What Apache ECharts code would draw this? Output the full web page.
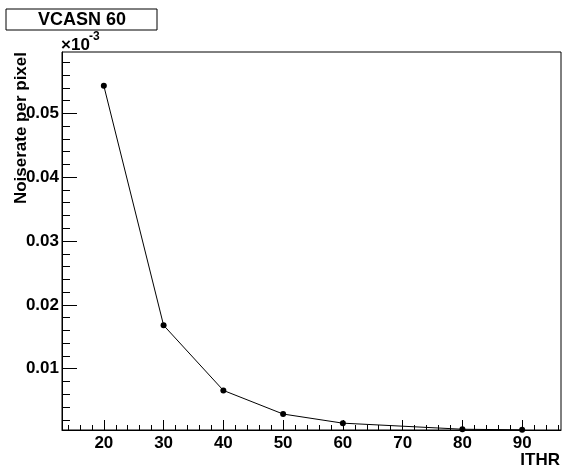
<!DOCTYPE html>
<html>
<head>
<meta charset="utf-8">
<script src="https://cdn.jsdelivr.net/npm/echarts@6/dist/echarts.min.js"></script>
<style>
  html, body { margin: 0; padding: 0; background: #fff; }
  #chart { width: 566px; height: 468px; }
</style>
</head>
<body>
<div id="chart"></div>
<script>
// 数据
const ithr = [20, 30, 40, 50, 60, 80, 90];
const noiseRate = [0.0543, 0.0168, 0.0066, 0.0029, 0.00147, 0.00052, 0.00042];
const xTickLabels = [20, 30, 40, 50, 60, 70, 80, 90];
const yTickLabels = [0.01, 0.02, 0.03, 0.04, 0.05];

// 小刻度
const xMinor = [];
for (let v = 14; v <= 96; v += 2) xMinor.push(v);
const yMinor = [];
for (let i = 1; i <= 29; i++) yMinor.push(+(i * 0.002).toFixed(3));

const FONT = '"Liberation Sans", Arial, sans-serif';
const xRange = { min: 13, max: 96.5 };
const yRange = { min: 0.0004, max: 0.0596 };

const chart = echarts.init(document.getElementById('chart'));

const labelStyle = {
  color: '#000',
  fontFamily: FONT,
  fontWeight: 'bold',
  fontSize: 17
};

chart.setOption({
  animation: false,
  grid: {
    left: 62, right: 5, top: 52, bottom: 38,
    show: true,
    borderColor: '#000',
    borderWidth: 1,
    backgroundColor: 'transparent'
  },
  xAxis: [{
    type: 'value',
    ...xRange,
    axisLine: { show: true, onZero: false, lineStyle: { color: '#000', width: 1 } },
    axisTick: { show: true, inside: true, length: 10, customValues: xTickLabels, lineStyle: { color: '#000' } },
    axisLabel: { ...labelStyle, margin: 5, customValues: xTickLabels },
    splitLine: { show: false }
  }, {
    type: 'value',
    ...xRange,
    position: 'bottom',
    axisLine: { show: false },
    axisTick: { show: true, inside: true, length: 5, customValues: xMinor, lineStyle: { color: '#000' } },
    axisLabel: { show: false },
    splitLine: { show: false }
  }],
  yAxis: [{
    type: 'value',
    ...yRange,
    axisLine: { show: true, onZero: false, lineStyle: { color: '#000', width: 1 } },
    axisTick: { show: true, inside: true, length: 15, customValues: yTickLabels, lineStyle: { color: '#000' } },
    axisLabel: {
      ...labelStyle,
      margin: 3,
      customValues: yTickLabels,
      formatter: (v) => v.toFixed(2)
    },
    splitLine: { show: false }
  }, {
    type: 'value',
    ...yRange,
    position: 'left',
    axisLine: { show: false },
    axisTick: { show: true, inside: true, length: 8, customValues: yMinor, lineStyle: { color: '#000' } },
    axisLabel: { show: false },
    splitLine: { show: false }
  }],
  series: [{
    type: 'line',
    data: ithr.map((x, i) => [x, noiseRate[i]]),
    symbol: 'circle',
    symbolSize: 6,
    itemStyle: { color: '#000' },
    lineStyle: { color: '#000', width: 1 }
  }],
  graphic: [
    {
      type: 'rect',
      shape: { x: 6, y: 9, width: 151, height: 21 },
      style: { fill: '#fff', stroke: '#000', lineWidth: 1 }
    },
    {
      type: 'text',
      x: 82, y: 20,
      style: {
        text: 'VCASN 60',
        font: 'bold 18px ' + FONT,
        fill: '#000',
        textAlign: 'center',
        textVerticalAlign: 'middle'
      }
    },
    {
      type: 'text',
      x: 61, y: 45,
      style: {
        text: '×10',
        font: 'bold 17px ' + FONT,
        fill: '#000',
        textAlign: 'left',
        textVerticalAlign: 'middle'
      }
    },
    {
      type: 'text',
      x: 89, y: 37,
      style: {
        text: '-3',
        font: 'bold 12px ' + FONT,
        fill: '#000',
        textAlign: 'left',
        textVerticalAlign: 'middle'
      }
    },
    {
      type: 'text',
      x: 21, y: 52,
      rotation: Math.PI / 2,
      style: {
        text: 'Noiserate per pixel',
        font: 'bold 17px ' + FONT,
        fill: '#000',
        textAlign: 'right',
        textVerticalAlign: 'middle'
      }
    },
    {
      type: 'text',
      x: 560, y: 460,
      style: {
        text: 'ITHR',
        font: 'bold 17px ' + FONT,
        fill: '#000',
        textAlign: 'right',
        textVerticalAlign: 'middle'
      }
    }
  ]
});
</script>
</body>
</html>
